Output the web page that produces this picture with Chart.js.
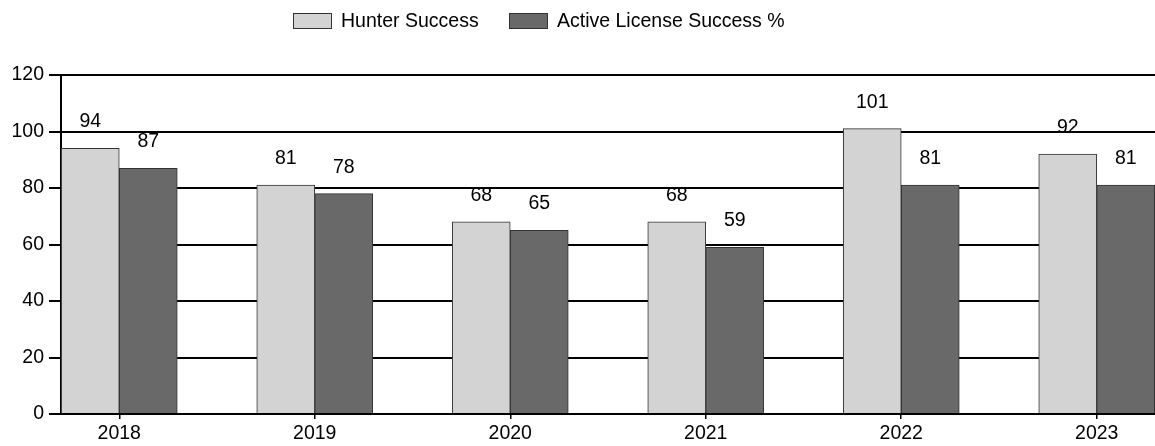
<!DOCTYPE html>
<html>
<head>
<meta charset="utf-8">
<script src="https://cdn.jsdelivr.net/npm/chart.js@4/dist/chart.umd.min.js"></script>
<style>
  html, body { margin: 0; padding: 0; background: #ffffff; }
  #wrap { width: 1155px; height: 446px; position: relative; }
</style>
</head>
<body>
<div id="wrap"><canvas id="c" width="1155" height="446"></canvas></div>
<script>
const categories = ['2018', '2019', '2020', '2021', '2022', '2023'];
const hunterSuccess = [94, 81, 68, 68, 101, 92];
const activeLicenseSuccess = [87, 78, 65, 59, 81, 81];
const seriesNames = ['Hunter Success', 'Active License Success %'];
const seriesColors = ['#d3d3d3', '#696969'];
const yMin = 0, yMax = 120, yStep = 20;

const FONT = "'Liberation Sans', Arial, sans-serif";
const FONT_SIZE = 19.5;

const valueLabels = {
  id: 'valueLabels',
  afterDatasetsDraw(chart) {
    const ctx = chart.ctx;
    ctx.save();
    ctx.font = FONT_SIZE + 'px ' + FONT;
    ctx.fillStyle = '#000';
    ctx.textAlign = 'center';
    ctx.textBaseline = 'alphabetic';
    chart.data.datasets.forEach((ds, di) => {
      const meta = chart.getDatasetMeta(di);
      meta.data.forEach((el, i) => {
        ctx.fillText(String(ds.data[i].y), el.x, el.y - 21);
      });
    });
    ctx.restore();
  }
};

const customLegend = {
  id: 'customLegend',
  afterDraw(chart) {
    const ctx = chart.ctx;
    ctx.save();
    ctx.font = FONT_SIZE + 'px ' + FONT;
    ctx.textBaseline = 'alphabetic';
    ctx.textAlign = 'left';
    const items = [
      { box: 293, text: 341 },
      { box: 509, text: 557 }
    ];
    items.forEach((it, i) => {
      ctx.fillStyle = seriesColors[i];
      ctx.fillRect(it.box, 13, 39, 16);
      ctx.strokeStyle = '#333';
      ctx.lineWidth = 1;
      ctx.strokeRect(it.box + 0.5, 13.5, 38, 15);
      ctx.fillStyle = '#000';
      ctx.fillText(seriesNames[i], it.text, 27);
    });
    ctx.restore();
  }
};

const datasets = [hunterSuccess, activeLicenseSuccess].map((arr, di) => ({
  label: seriesNames[di],
  data: arr.map((v, i) => ({ x: i, y: v })),
  backgroundColor: seriesColors[di],
  borderColor: '#333',
  borderWidth: 1,
  barThickness: 58
}));

new Chart(document.getElementById('c'), {
  type: 'bar',
  data: { datasets },
  options: {
    responsive: false,
    animation: false,
    devicePixelRatio: 1,
    layout: { padding: { top: 75, left: 0, right: 0, bottom: 0 } },
    plugins: {
      legend: { display: false },
      tooltip: { enabled: false }
    },
    scales: {
      x: {
        type: 'linear',
        offset: false,
        min: -0.298,
        max: 5.298,
        afterBuildTicks(scale) {
          scale.ticks = categories.map((_, i) => ({ value: i }));
        },
        afterFit(scale) { scale.height = 32; },
        ticks: {
          autoSkip: false,
          maxRotation: 0,
          padding: 3,
          color: '#000',
          font: { family: FONT, size: FONT_SIZE }
          ,
          callback: (v) => categories[v] !== undefined ? categories[v] : ''
        },
        grid: {
          offset: false,
          drawOnChartArea: false,
          drawTicks: true,
          tickLength: 5,
          lineWidth: 1.5,
          color: '#000'
        },
        border: { display: true, color: '#000', width: 2 }
      },
      y: {
        min: yMin,
        max: yMax,
        afterFit(scale) { scale.width = 61; },
        ticks: {
          stepSize: yStep,
          padding: 5,
          color: '#000',
          font: { family: FONT, size: FONT_SIZE }
        },
        grid: {
          color: '#000',
          tickLength: 12,
          lineWidth: 2,
          drawTicks: true
        },
        border: { display: true, color: '#000', width: 2 }
      }
    }
  },
  plugins: [valueLabels, customLegend]
});
</script>
</body>
</html>
